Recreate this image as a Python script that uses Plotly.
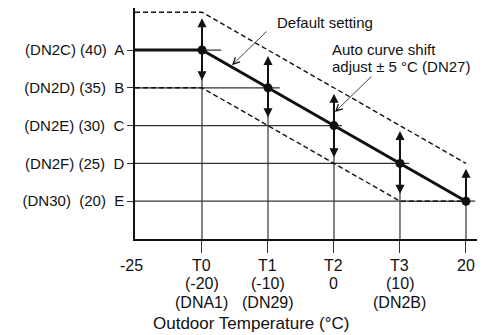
import plotly.graph_objects as go

# outdoor temperature set points T0..T3 and the end point, and their water temperatures A..E
temps = [-20, -10, 0, 10, 20]
water = [40, 35, 30, 25, 20]
shift = 5  # auto curve shift +/- 5 °C

# x tick labels, one list per text row
x_row1 = ["T0", "T1", "T2", "T3", "20"]
x_row2 = ["(-20)", "(-10)", "0", "(10)", ""]
x_row3 = ["(DNA1)", "(DN29)", "", "(DN2B)", ""]
y_tick_text = ["(DN2C) (40)  A", "(DN2D) (35)  B", "(DN2E) (30)  C", "(DN2F) (25)  D", "(DN30)  (20)  E"]
origin_label = "-25"

# where each horizontal set-point line stops on the right
h_line_end = [-17.1, -8.2, 1.2, 11.4, 21.4]
# arrow reach above / below each point (0 = no arrow)
arrow_up = [4.2, 4.2, 4.2, 4.3, 4.3]
arrow_down = [4.0, 3.9, 4.2, 4.0, 0]

x_range = [-30.15, 21.67]
y_range = [15, 45.56]

font = "Liberation Sans, Arial, sans-serif"
ink = "#111"
grid = "#333"

fig = go.Figure()

# horizontal lines from the axis to just past each point
for w, xe in zip(water, h_line_end):
    fig.add_trace(go.Scatter(x=[x_range[0], xe], y=[w, w], mode="lines",
                             line=dict(color=grid, width=1.2), hoverinfo="skip"))

# vertical lines from the bottom axis up to each point
for t, w in zip(temps, water):
    fig.add_trace(go.Scatter(x=[t, t], y=[y_range[0], w], mode="lines",
                             line=dict(color=grid, width=1.2), hoverinfo="skip"))

# upper and lower shift limits
upper = [water[0] + shift] + [w + shift for w in water]
lower = [water[0] - shift] + [max(w - shift, water[-1]) for w in water]
xs = [x_range[0]] + temps
fig.add_trace(go.Scatter(x=xs, y=upper, mode="lines",
                         line=dict(color=ink, width=1.4, dash="5px,3px"), hoverinfo="skip"))
fig.add_trace(go.Scatter(x=xs, y=lower, mode="lines",
                         line=dict(color=ink, width=1.4, dash="5px,3px"), hoverinfo="skip"))

# default heating curve
fig.add_trace(go.Scatter(x=xs, y=[water[0]] + water, mode="lines",
                         line=dict(color=ink, width=3), hoverinfo="skip"))
fig.add_trace(go.Scatter(x=temps, y=water, mode="markers",
                         marker=dict(color=ink, size=9), hoverinfo="skip"))

# double arrows showing the shift range
for t, w, up, dn in zip(temps, water, arrow_up, arrow_down):
    for d in (up, -dn):
        if d == 0:
            continue
        fig.add_annotation(x=t, y=w + d, ax=t, ay=w, xref="x", yref="y", axref="x", ayref="y",
                           text="", showarrow=True, arrowhead=2, arrowsize=0.9, arrowwidth=2,
                           arrowcolor=ink, standoff=0, startstandoff=0)

# leader lines and notes
fig.add_annotation(x=-15.45, y=38.0, ax=-10, ay=42.65, xref="x", yref="y", axref="x", ayref="y",
                   text="", showarrow=True, arrowhead=5, arrowsize=1.6, arrowwidth=0.8,
                   arrowcolor=ink, standoff=0, startstandoff=0)
fig.add_annotation(x=0.15, y=31.8, ax=5.9, ay=36.7, xref="x", yref="y", axref="x", ayref="y",
                   text="", showarrow=True, arrowhead=5, arrowsize=1.6, arrowwidth=0.8,
                   arrowcolor=ink, standoff=0, startstandoff=0)
fig.add_annotation(x=-9.0, y=43.7, xref="x", yref="y", text="Default setting",
                   showarrow=False, xanchor="left", yanchor="middle")
for txt, yv in zip(["Auto curve shift", "adjust ± 5 °C (DN27)"], [40.13, 37.88]):
    fig.add_annotation(x=-0.6, y=yv, xref="x", yref="y", text=txt,
                       showarrow=False, xanchor="left", yanchor="middle")

# bottom labels: three rows under the ticks, the origin label and the axis title
for row, dy in zip([x_row1, x_row2, x_row3], [-26, -44.5, -63]):
    for t, txt in zip(temps, row):
        if txt:
            fig.add_annotation(x=t, y=0, xref="x", yref="paper", text=txt, showarrow=False,
                               xanchor="center", yanchor="middle", yshift=dy, font=dict(size=16))
fig.add_annotation(x=0, y=0, xref="paper", yref="paper", text=origin_label, showarrow=False,
                   xanchor="center", yanchor="middle", yshift=-26, xshift=-4, font=dict(size=16))
fig.add_annotation(x=0.34, y=0, xref="paper", yref="paper", text="Outdoor Temperature (°C)",
                   showarrow=False, xanchor="center", yanchor="middle", yshift=-84, font=dict(size=17))

fig.update_xaxes(range=x_range, tickvals=temps, showticklabels=False, ticks="outside", ticklen=12,
                 tickwidth=1.2, tickcolor=grid, showgrid=False, zeroline=False, showline=True,
                 linecolor=ink, linewidth=1.5, automargin=False)
fig.update_yaxes(range=y_range, tickvals=water, ticktext=y_tick_text, ticks="outside", ticklen=6,
                 tickwidth=1.2, tickcolor=grid, showgrid=False, zeroline=False, showline=True,
                 linecolor=ink, linewidth=1.5, automargin=False)

# the page body adds an 8px offset, so the figure is 8px smaller with the plot area kept in place
fig.update_layout(
    width=482,
    height=327,
    margin=dict(l=127, r=13, t=0, b=96),
    showlegend=False,
    paper_bgcolor="#fff",
    plot_bgcolor="#fff",
    font=dict(family=font, color=ink, size=15),
)

fig.write_html("out.html")
